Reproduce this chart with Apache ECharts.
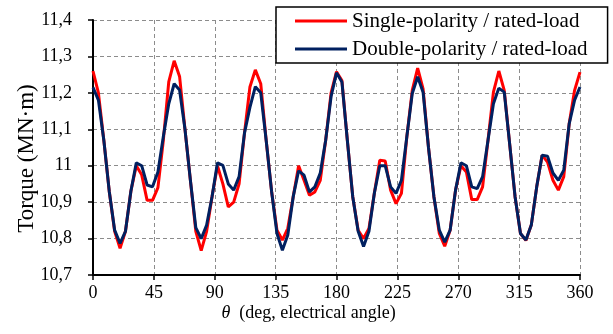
<!DOCTYPE html>
<html>
<head>
<meta charset="utf-8">
<script src="https://cdn.jsdelivr.net/npm/echarts@6/dist/echarts.min.js"></script>
<style>
html,body{margin:0;padding:0;background:#fff;}
#chart{width:613px;height:334px;}
</style>
</head>
<body>
<div id="chart"></div>
<script>
const angles = [0,4,8,12,16,20,24,28,32,36,40,44,48,52,56,60,64,68,72,76,80,84,88,92,96,100,104,108,112,116,120,124,128,132,136,140,144,148,152,156,160,164,168,172,176,180,184,188,192,196,200,204,208,212,216,220,224,228,232,236,240,244,248,252,256,260,264,268,272,276,280,284,288,292,296,300,304,308,312,316,320,324,328,332,336,340,344,348,352,356,360];

const singlePolarity = [11.26,11.20,11.07,10.93,10.82,10.773,10.82,10.93,11.00,10.975,10.905,10.905,10.94,11.07,11.23,11.288,11.245,11.10,10.96,10.82,10.767,10.82,10.915,11.00,10.95,10.887,10.90,10.95,11.09,11.216,11.263,11.225,11.07,10.93,10.823,10.796,10.828,10.915,11.00,10.96,10.919,10.928,10.96,11.07,11.20,11.258,11.234,11.07,10.915,10.823,10.80,10.828,10.925,11.015,11.013,10.933,10.896,10.924,11.08,11.207,11.268,11.211,11.05,10.915,10.814,10.779,10.823,10.933,11.00,10.983,10.907,10.907,10.942,11.07,11.202,11.26,11.207,11.06,10.915,10.814,10.795,10.837,10.942,11.029,11.01,10.96,10.933,10.97,11.115,11.207,11.257];

const doublePolarity = [11.215,11.18,11.07,10.93,10.823,10.787,10.82,10.93,11.008,11.00,10.947,10.942,10.983,11.08,11.17,11.225,11.208,11.10,10.96,10.83,10.80,10.837,10.915,11.008,11.001,10.95,10.933,10.97,11.09,11.16,11.217,11.20,11.07,10.93,10.814,10.768,10.81,10.915,10.986,10.974,10.928,10.942,10.98,11.07,11.19,11.255,11.23,11.07,10.915,10.82,10.778,10.82,10.925,11.00,11.00,10.942,10.924,10.96,11.08,11.198,11.244,11.202,11.05,10.915,10.823,10.79,10.823,10.933,11.008,11.00,10.942,10.937,10.97,11.07,11.17,11.213,11.202,11.06,10.915,10.814,10.796,10.837,10.942,11.029,11.026,10.98,10.96,10.988,11.115,11.18,11.216];

const seriesNames = ['Single-polarity / rated-load', 'Double-polarity / rated-load'];
const xTicks = {min: 0, max: 360, step: 45};
const yTicks = {min: 10.7, max: 11.4, step: 0.1};

const FONT = 'Liberation Serif';
const chart = echarts.init(document.getElementById('chart'), null, {renderer: 'canvas'});

function pairs(xs, ys){ return xs.map((x,i)=>[x, ys[i]]); }

const splitStyle = {show: true, lineStyle: {color: '#8c8c8c', width: 1, type: [4, 3]}};

chart.setOption({
  animation: false,
  backgroundColor: '#fff',
  grid: {left: 93, right: 33, top: 20, bottom: 59, containLabel: false, outerBoundsMode: 'none'},
  legend: {
    orient: 'vertical',
    left: 276, top: 7,
    backgroundColor: '#fff',
    borderColor: '#000',
    borderWidth: 1.5,
    borderRadius: 0,
    padding: [3, 20, 3, 19],
    itemGap: 6,
    itemWidth: 52,
    itemHeight: 3,
    icon: 'rect',
    textStyle: {fontFamily: FONT, fontSize: 21, color: '#000', lineHeight: 22},
    data: seriesNames
  },
  xAxis: {
    type: 'value',
    min: xTicks.min, max: xTicks.max, interval: xTicks.step,
    name: '{i|θ}  (deg, electrical angle)',
    nameLocation: 'middle',
    nameGap: 29,
    nameMoveOverlap: false,
    nameTextStyle: {fontFamily: FONT, fontSize: 18, color: '#000', verticalAlign: 'top',
      padding: [0, 56, 0, 0],
      rich: {i: {fontFamily: FONT, fontSize: 18, fontStyle: 'italic', color: '#000'}}},
    axisLine: {show: true, onZero: false, lineStyle: {color: '#000', width: 2}},
    axisTick: {show: true, inside: false, length: 5, lineStyle: {color: '#000', width: 1.5}},
    axisLabel: {fontFamily: FONT, fontSize: 18, color: '#000', margin: 9},
    splitLine: splitStyle
  },
  yAxis: {
    type: 'value',
    min: yTicks.min, max: yTicks.max, interval: yTicks.step,
    name: 'Torque (MN·m)',
    nameLocation: 'middle',
    nameGap: 55,
    nameMoveOverlap: false,
    nameTextStyle: {fontFamily: FONT, fontSize: 23, color: '#000', padding: [0, 22, 0, 0]},
    axisLine: {show: true, onZero: false, lineStyle: {color: '#000', width: 2}},
    axisTick: {show: true, inside: false, length: 5, lineStyle: {color: '#000', width: 1.5}},
    axisLabel: {fontFamily: FONT, fontSize: 18, color: '#000', margin: 21,
      formatter: v => String(Math.round(v * 10) / 10).replace('.', ',')},
    splitLine: splitStyle
  },
  series: [
    {name: seriesNames[0], type: 'line', data: pairs(angles, singlePolarity), symbol: 'none',
      lineStyle: {color: '#ff0000', width: 3}, itemStyle: {color: '#ff0000'}, z: 2},
    {name: seriesNames[1], type: 'line', data: pairs(angles, doublePolarity), symbol: 'none',
      lineStyle: {color: '#002060', width: 3}, itemStyle: {color: '#002060'}, z: 3}
  ]
});
</script>
</body>
</html>
